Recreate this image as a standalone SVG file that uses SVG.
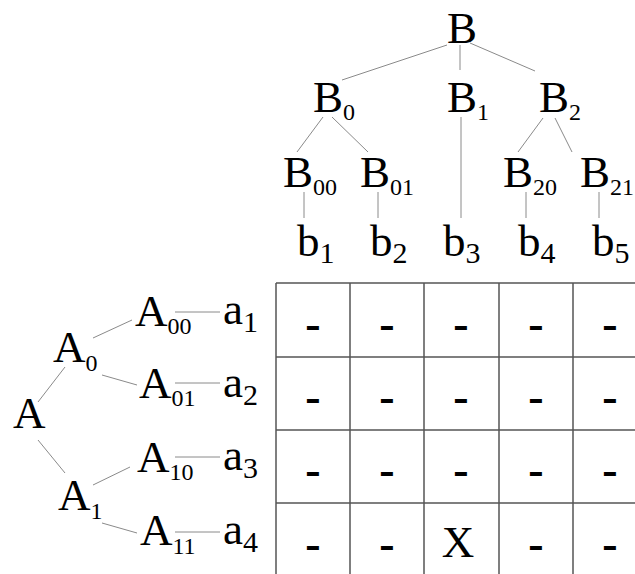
<svg xmlns="http://www.w3.org/2000/svg" width="635" height="574" viewBox="0 0 635 574" font-family="'Liberation Serif', 'Times New Roman', serif">
<style>
text{font-family:"Liberation Serif","Times New Roman",serif;fill:#000}
.n{font-size:45px}
.s{font-size:24px}
.bs{font-size:30px}
.d{font-size:46px;font-weight:bold;text-anchor:middle}
.c line{stroke:#8a8a8a;stroke-width:1}
.g line{stroke:#555;stroke-width:1.5}
</style>
<rect width="635" height="574" fill="#fff"/>
<g id="connectors" class="c">
<line x1="447" y1="45" x2="342" y2="80"/>
<line x1="460" y1="45" x2="460" y2="70"/>
<line x1="470" y1="43" x2="535" y2="71"/>
<line x1="323" y1="117" x2="297" y2="152"/>
<line x1="332" y1="117" x2="368" y2="152"/>
<line x1="461" y1="117" x2="461" y2="218"/>
<line x1="543" y1="118" x2="518" y2="152"/>
<line x1="555" y1="118" x2="572" y2="152"/>
<line x1="304" y1="192" x2="304" y2="218"/>
<line x1="378" y1="192" x2="378" y2="218"/>
<line x1="526" y1="192" x2="526" y2="218"/>
<line x1="599" y1="192" x2="599" y2="218"/>
<line x1="38" y1="402" x2="65" y2="367"/>
<line x1="38" y1="440" x2="65" y2="473"/>
<line x1="93" y1="338" x2="132" y2="320"/>
<line x1="102" y1="375" x2="137" y2="385"/>
<line x1="93" y1="485" x2="130" y2="467"/>
<line x1="102" y1="523" x2="137" y2="533"/>
<line x1="175" y1="312" x2="220" y2="312"/>
<line x1="175" y1="383" x2="220" y2="383"/>
<line x1="175" y1="457" x2="220" y2="457"/>
<line x1="175" y1="532" x2="220" y2="532"/>
</g>
<g id="B"><text class="n" x="447" y="43">B</text></g>
<g id="B0"><text class="n" x="313" y="112">B<tspan class="s" dy="8">0</tspan></text></g>
<g id="B1"><text class="n" x="447" y="112">B<tspan class="s" dy="8">1</tspan></text></g>
<g id="B2"><text class="n" x="539" y="112">B<tspan class="s" dy="8">2</tspan></text></g>
<g id="B00"><text class="n" x="283" y="187">B<tspan class="s" dy="8">00</tspan></text></g>
<g id="B01"><text class="n" x="360" y="187">B<tspan class="s" dy="8">01</tspan></text></g>
<g id="B20"><text class="n" x="503" y="187">B<tspan class="s" dy="8">20</tspan></text></g>
<g id="B21"><text class="n" x="580" y="187">B<tspan class="s" dy="8">21</tspan></text></g>
<g id="b1"><text class="n" x="297" y="256">b<tspan class="bs" dy="7">1</tspan></text></g>
<g id="b2"><text class="n" x="370" y="256">b<tspan class="bs" dy="7">2</tspan></text></g>
<g id="b3"><text class="n" x="443" y="256">b<tspan class="bs" dy="7">3</tspan></text></g>
<g id="b4"><text class="n" x="518" y="256">b<tspan class="bs" dy="7">4</tspan></text></g>
<g id="b5"><text class="n" x="592" y="256">b<tspan class="bs" dy="7">5</tspan></text></g>
<g id="A"><text class="n" x="13" y="428">A</text></g>
<g id="A0"><text class="n" x="53" y="362">A<tspan class="s" dy="9">0</tspan></text></g>
<g id="A1"><text class="n" x="58" y="510">A<tspan class="s" dy="9">1</tspan></text></g>
<g id="A00"><text class="n" x="135" y="326">A<tspan class="s" dy="8">00</tspan></text></g>
<g id="A01"><text class="n" x="139" y="398">A<tspan class="s" dy="8">01</tspan></text></g>
<g id="A10"><text class="n" x="137" y="472">A<tspan class="s" dy="8">10</tspan></text></g>
<g id="A11"><text class="n" x="140" y="545">A<tspan class="s" dy="9">11</tspan></text></g>
<g id="a1"><text class="n" x="223" y="324">a<tspan class="bs" dy="8">1</tspan></text></g>
<g id="a2"><text class="n" x="223" y="397">a<tspan class="bs" dy="8">2</tspan></text></g>
<g id="a3"><text class="n" x="223" y="470">a<tspan class="bs" dy="8">3</tspan></text></g>
<g id="a4"><text class="n" x="223" y="544">a<tspan class="bs" dy="8">4</tspan></text></g>
<g id="matrix">
<g class="g">
<line x1="276" y1="283" x2="635" y2="283"/>
<line x1="276" y1="357" x2="635" y2="357"/>
<line x1="276" y1="430" x2="635" y2="430"/>
<line x1="276" y1="503" x2="635" y2="503"/>
<line x1="276" y1="283" x2="276" y2="574"/>
<line x1="350" y1="283" x2="350" y2="574"/>
<line x1="424" y1="283" x2="424" y2="574"/>
<line x1="499" y1="283" x2="499" y2="574"/>
<line x1="573" y1="283" x2="573" y2="574"/>
</g>
<text class="d" x="313" y="339">-</text><text class="d" x="387" y="339">-</text><text class="d" x="461" y="339">-</text><text class="d" x="536" y="339">-</text><text class="d" x="610" y="339">-</text>
<text class="d" x="313" y="412">-</text><text class="d" x="387" y="412">-</text><text class="d" x="461" y="412">-</text><text class="d" x="536" y="412">-</text><text class="d" x="610" y="412">-</text>
<text class="d" x="313" y="485">-</text><text class="d" x="387" y="485">-</text><text class="d" x="461" y="485">-</text><text class="d" x="536" y="485">-</text><text class="d" x="610" y="485">-</text>
<text class="d" x="313" y="559">-</text><text class="d" x="387" y="559">-</text>
<text class="n" x="458" y="557" text-anchor="middle" font-size="46">X</text>
<text class="d" x="536" y="559">-</text><text class="d" x="610" y="559">-</text>
</g>
</svg>
